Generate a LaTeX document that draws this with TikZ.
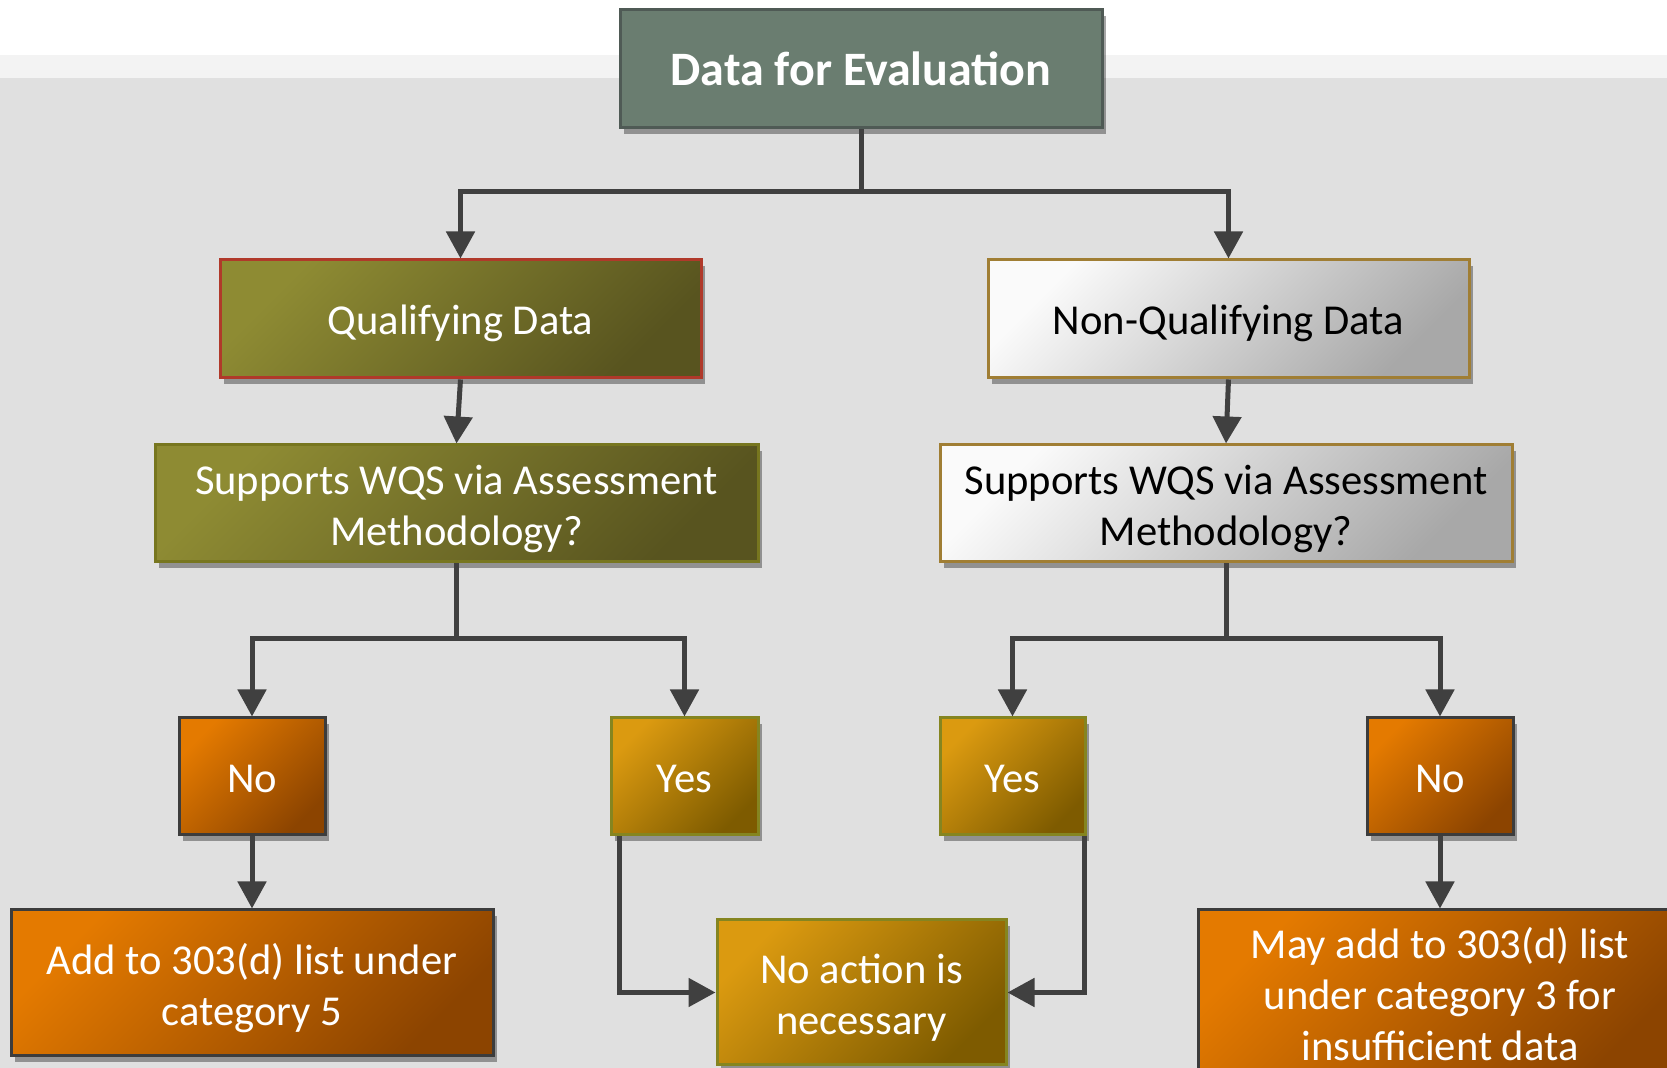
\documentclass[tikz,border=0pt]{standalone}
\usepackage{fontspec}
\setmainfont{Carlito}
\usetikzlibrary{arrows.meta,shadows}
\definecolor{bgray}{HTML}{E0E0E0}
\definecolor{bband}{HTML}{F3F3F3}
\definecolor{conncol}{HTML}{404040}
\definecolor{topfill}{HTML}{6A7D70}
\definecolor{topouter}{HTML}{4F5A55}
\definecolor{topinner}{HTML}{8FAE9C}
\definecolor{olivelt}{HTML}{8E8B33}
\definecolor{olivedk}{HTML}{58541F}
\definecolor{oliveouter}{HTML}{77761F}
\definecolor{oliveinner}{HTML}{A6A23E}
\definecolor{qualouter}{HTML}{B0392A}
\definecolor{greylt}{HTML}{FAFAFA}
\definecolor{greydk}{HTML}{A8A8A8}
\definecolor{goldouter}{HTML}{A07E34}
\definecolor{orangelt}{HTML}{E47A00}
\definecolor{orangedk}{HTML}{8C4400}
\definecolor{orangeinner}{HTML}{FF9010}
\definecolor{darkouter}{HTML}{3C3C3C}
\definecolor{yellowlt}{HTML}{DB9A10}
\definecolor{yellowdk}{HTML}{7E5B00}
\definecolor{yellowinner}{HTML}{FFC020}
\definecolor{yellowouter}{HTML}{858520}
\newcommand{\toppad}{\rule{0pt}{0.95em}}
\tikzset{
  rh/.initial=0.92em,
  boxbase/.style={rectangle, inner sep=0pt, align=center, line width=1.5pt,
    drop shadow={shadow xshift=2pt, shadow yshift=-3pt, opacity=0.35, fill=black},
    font=\fontsize{21.3}{25.5}\selectfont,
    execute at begin node={\rule{0pt}{\pgfkeysvalueof{/tikz/rh}}}},
  inner/.style={append after command={
    \pgfextra{\draw[#1, line width=1.5pt]
      ([shift={(2pt,-2pt)}]\tikzlastnode.north west) rectangle
      ([shift={(-2pt,2pt)}]\tikzlastnode.south east);}}},
  topbox/.style={boxbase, rh=0pt, draw=topouter, fill=topfill, text=white,
    font=\fontsize{24}{28}\selectfont\bfseries, inner=topinner},
  olivebox/.style={boxbase, draw=#1, top color=olivelt, bottom color=olivedk,
    shading angle=45, text=white, inner=oliveinner},
  greybox/.style={boxbase, draw=goldouter, top color=greylt, bottom color=greydk,
    shading angle=45, text=black, inner=white},
  orangebox/.style={boxbase, draw=darkouter, top color=orangelt, bottom color=orangedk,
    shading angle=45, text=white, inner=orangeinner!70!orangelt},
  yellowbox/.style={boxbase, draw=yellowouter, top color=yellowlt, bottom color=yellowdk,
    shading angle=45, text=white, inner=yellowinner!70!yellowlt},
  conn/.style={draw=conncol, line width=2.5pt,
    -{Triangle[width=14pt,length=13.5pt]}},
  plain/.style={draw=conncol, line width=2.5pt}
}
\begin{document}
\begin{tikzpicture}[x=0.5pt,y=-0.5pt]
% background
\fill[white] (0,0) rectangle (1667,1068);
\fill[bband] (0,55) rectangle (1667,78);
\fill[bgray] (0,78) rectangle (1667,1068);
\useasboundingbox (0,0) rectangle (1667,1068);

% nodes
\node[topbox, minimum width=241pt, minimum height=59pt] (top) at (861,69) {Data for Evaluation};
\node[olivebox=qualouter, minimum width=240.5pt, minimum height=59pt] (qual) at (460.5,319) {Qualifying Data};
\node[greybox, minimum width=240.5pt, minimum height=59pt] (nqual) at (1228.5,319) {Non-Qualifying Data};
\node[olivebox=oliveouter, minimum width=301.5pt, minimum height=58.5pt] (supL) at (456.5,503.5) {\toppad Supports WQS via Assessment\\Methodology?};
\node[greybox, minimum width=286pt, minimum height=58.5pt] (supR) at (1226,503.5) {\toppad Supports WQS via Assessment\\Methodology?};
\node[orangebox, rh=0.77em, minimum width=73pt, minimum height=58.5pt] (noL) at (252,776.5) {No};
\node[yellowbox, rh=0.77em, minimum width=73.5pt, minimum height=58.5pt] (yesL) at (684.5,776.5) {Yes};
\node[yellowbox, rh=0.77em, minimum width=72.5pt, minimum height=58.5pt] (yesR) at (1012.5,776.5) {Yes};
\node[orangebox, rh=0.77em, minimum width=73pt, minimum height=58.5pt] (noR) at (1440,776.5) {No};
\node[orangebox, minimum width=241pt, minimum height=73pt] (add) at (252,983) {\toppad Add to 303(d) list under\\category 5};
\node[yellowbox, minimum width=144.5pt, minimum height=72.5pt] (noact) at (861.5,992.5) {\toppad No action is\\necessary};
\node[orangebox, minimum width=242pt, minimum height=84pt] (mayadd) at (1440,994) {May add to 303(d) list\\under category 3 for\\insufficient data};

% junctions
\coordinate (j1) at (861,192);
\coordinate (j2) at (456.5,639);
\coordinate (j3) at (1226,639);

% connectors
\draw[plain] (top.south) -- (j1);
\draw[conn] (j1) -| (qual.north);
\draw[conn] (j1) -| (nqual.north);
\draw[conn] (qual.south) -- (supL.north);
\draw[conn] (nqual.south) -- (supR.north);
\draw[plain] (supL.south) -- (j2);
\draw[conn] (j2) -| (noL.north);
\draw[conn] (j2) -| (yesL.north);
\draw[plain] (supR.south) -- (j3);
\draw[conn] (j3) -| (yesR.north);
\draw[conn] (j3) -| (noR.north);
\draw[conn] (noL.south) -- (add.north);
\draw[conn] (noR.south) -- (mayadd.north);
\draw[conn] ([xshift=5pt]yesL.south west) |- (noact.west);
\draw[conn] ([xshift=-1pt]yesR.south east) |- (noact.east);
\end{tikzpicture}
\end{document}
